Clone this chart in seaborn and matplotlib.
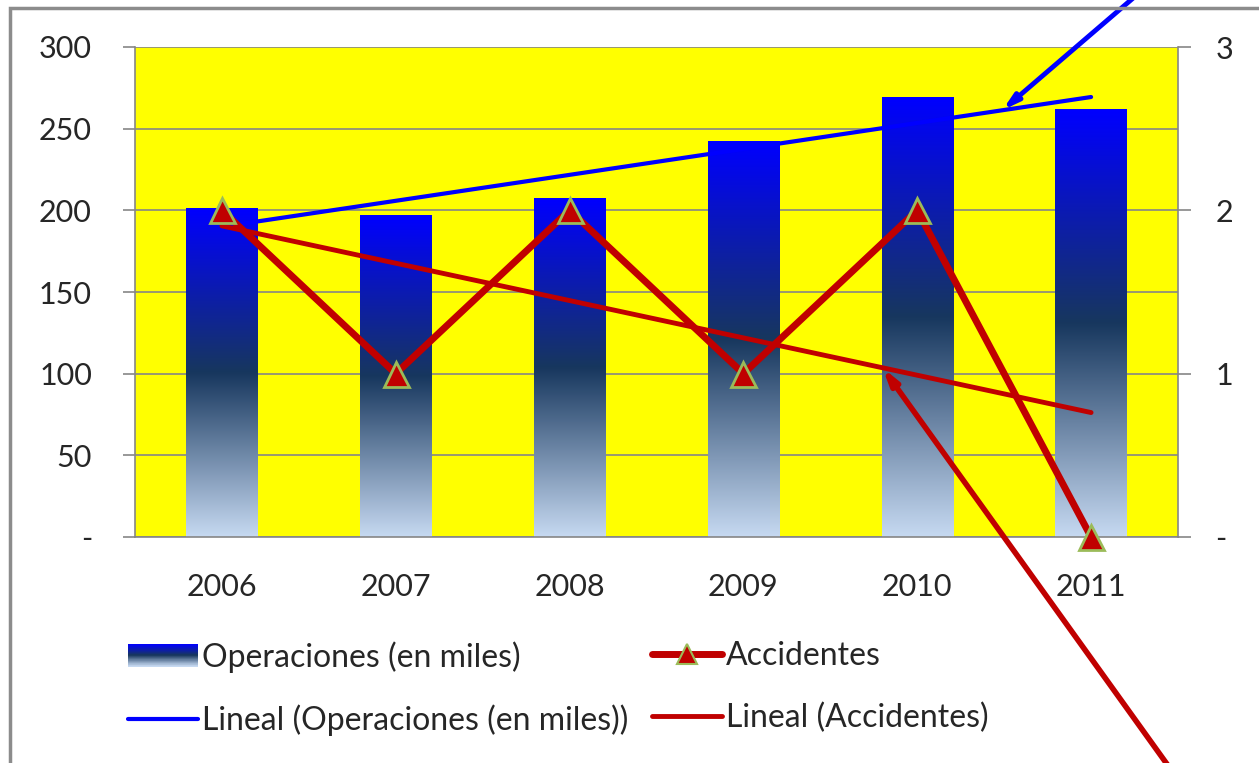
import numpy as np
import pandas as pd
import matplotlib
matplotlib.use('Agg')
import matplotlib.pyplot as plt
import seaborn as sns
from matplotlib.colors import LinearSegmentedColormap
from matplotlib.patches import Rectangle
from matplotlib.lines import Line2D
from matplotlib.legend_handler import HandlerBase

# Chart values
years = ['2006', '2007', '2008', '2009', '2010', '2011']
operaciones = [201, 197, 207, 242, 269, 262]
accidentes = [2, 1, 2, 1, 2, 0]
left_ticks = [0, 50, 100, 150, 200, 250, 300]
left_labels = ['-', '50', '100', '150', '200', '250', '300']
right_ticks = [0, 1, 2, 3]
right_labels = ['-', '1', '2', '3']

sns.set_style('white')
plt.rcParams['font.family'] = ['Lato', 'DejaVu Sans']

GRID = '#868686'
TXT = '#262626'
RED = '#C00000'
FS = 22
BAR_CMAP = LinearSegmentedColormap.from_list(
    'bar', [(0, '#0000FF'), (0.5, '#17375E'), (1, '#C6D9F1')])

data = pd.DataFrame({'year': years, 'ops': operaciones, 'acc': accidentes})
idx = np.arange(len(years))

fig = plt.figure(figsize=(12.59, 7.63), dpi=100)
ax = fig.add_axes([135 / 1259, 1 - 537 / 763, (1178 - 135) / 1259, (537 - 47) / 763])
ax.set_facecolor('#FFFF00')

# bars, then replace the flat fill with a vertical gradient
sns.barplot(data=data, x='year', y='ops', ax=ax, width=0.41, color='blue', zorder=2)
grad = np.linspace(0, 1, 256).reshape(-1, 1)
for p in ax.patches:
    x0, w, h = p.get_x(), p.get_width(), p.get_height()
    ax.imshow(grad, extent=[x0, x0 + w, 0, h], aspect='auto', cmap=BAR_CMAP,
              origin='upper', zorder=2.1, interpolation='bilinear')
    p.set_visible(False)

# linear trend of operaciones
sns.regplot(x=idx, y=data['ops'], ax=ax, scatter=False, ci=None, truncate=True,
            line_kws=dict(color='#0000FF', lw=3, zorder=3))

ax.set_xlim(-0.5, len(years) - 0.5)
ax.set_ylim(0, 300)
ax.set_yticks(left_ticks)
ax.set_yticklabels(left_labels)
ax.set_xticks(idx)
ax.set_xticklabels(years)
ax.set_xticks(np.arange(len(years) + 1) - 0.5, minor=True)
ax.grid(axis='y', color=GRID, lw=1.2, zorder=1)
ax.set_axisbelow(True)
ax.tick_params(axis='x', which='major', length=0, pad=26, labelsize=FS, labelcolor=TXT)
ax.tick_params(axis='x', which='minor', length=9, width=1.2, color=GRID, direction='out')
ax.tick_params(axis='y', length=9, width=1.2, color=GRID, pad=22, labelsize=FS,
               labelcolor=TXT, left=True)
ax.set_xlabel('')
ax.set_ylabel('')
for s in ['left', 'bottom']:
    ax.spines[s].set_color(GRID)
    ax.spines[s].set_linewidth(1.2)
ax.spines['top'].set_visible(False)
ax.spines['right'].set_visible(False)

# secondary axis: accidentes
ax2 = ax.twinx()
ax2.set_facecolor('none')
sns.regplot(x=idx, y=data['acc'], ax=ax2, scatter=False, ci=None, truncate=True,
            line_kws=dict(color=RED, lw=3.5, zorder=3))
sns.lineplot(x=idx, y=data['acc'], ax=ax2, color=RED, lw=5, marker='^',
             markersize=18, markerfacecolor=RED, markeredgecolor='#9BBB59',
             markeredgewidth=2, zorder=4, clip_on=False)
ax2.set_ylim(0, 3)
ax2.set_xlim(-0.5, len(years) - 0.5)
ax2.set_yticks(right_ticks)
ax2.set_yticklabels(right_labels)
ax2.tick_params(axis='y', length=9, width=1.2, color=GRID, pad=18, labelsize=FS,
                labelcolor=TXT, right=True)
ax2.set_xlabel('')
ax2.set_ylabel('')
ax2.spines['right'].set_color(GRID)
ax2.spines['right'].set_linewidth(1.2)
for s in ['left', 'top', 'bottom']:
    ax2.spines[s].set_visible(False)

# callout arrows pointing at the trend lines
ops_fit = np.polyfit(idx, operaciones, 1)
acc_fit = np.polyfit(idx, accidentes, 1)
ax.annotate('', xy=(4.49, np.polyval(ops_fit, 4.49)), xytext=(0.968, 1.12),
            textcoords='axes fraction', annotation_clip=False,
            arrowprops=dict(arrowstyle='-|>,head_length=0.9,head_width=0.25', lw=3.5,
                            color='#0000FF', shrinkA=0, shrinkB=0), zorder=6)
ax2.annotate('', xy=(3.8, np.polyval(acc_fit, 3.8)), xytext=(0.995, -0.48),
             textcoords='axes fraction', annotation_clip=False,
             arrowprops=dict(arrowstyle='-|>,head_length=0.9,head_width=0.25', lw=4,
                             color=RED, shrinkA=0, shrinkB=0), zorder=6)


class GradientHandler(HandlerBase):
    def create_artists(self, legend, orig_handle, xdescent, ydescent, width, height,
                       fontsize, trans):
        n = 40
        out = []
        for i in range(n):
            out.append(Rectangle((-xdescent, -ydescent + height * (1 - (i + 1) / n)),
                                 width, height / n + 0.3, facecolor=BAR_CMAP(i / (n - 1)),
                                 edgecolor='none', transform=trans))
        return out


bar_handle = Rectangle((0, 0), 1, 1)
ops_line = Line2D([], [], color='#0000FF', lw=3)
acc_line = Line2D([], [], color=RED, lw=5, marker='^', markersize=15,
                  markerfacecolor=RED, markeredgecolor='#9BBB59', markeredgewidth=1.5)
acc_trend = Line2D([], [], color=RED, lw=3.5)

leg_kw = dict(loc='upper left', frameon=False, fontsize=23, handlelength=2.2,
              handletextpad=0.12, labelspacing=1.0, borderpad=0, borderaxespad=0,
              labelcolor=TXT)
leg1 = fig.legend([bar_handle, ops_line],
                  ['Operaciones (en miles)', 'Lineal (Operaciones (en miles))'],
                  bbox_to_anchor=(128 / 1259, 1 - 641 / 763),
                  handler_map={Rectangle: GradientHandler()}, **leg_kw)
leg2 = fig.legend([acc_line, acc_trend], ['Accidentes', 'Lineal (Accidentes)'],
                  bbox_to_anchor=(652 / 1259, 1 - 641 / 763), **leg_kw)

# chart area border (left and top edges visible)
fig.add_artist(Rectangle((10 / 1259, -0.1), 1.2, 1 - 8 / 763 + 0.1, transform=fig.transFigure,
                         fill=False, edgecolor='#8C8C8C', lw=2.5))

fig.savefig('out.png', dpi=100)
